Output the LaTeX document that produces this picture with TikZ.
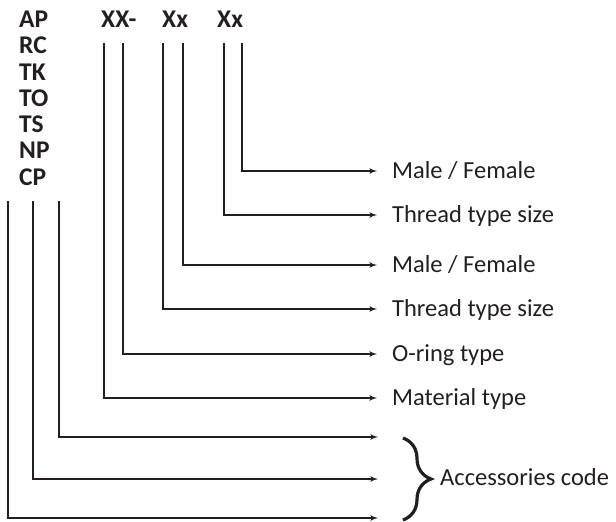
\documentclass[tikz,border=0pt]{standalone}
\usepackage{fontspec}
\setmainfont{Carlito}
\usepackage{tikz}
\usetikzlibrary{arrows,positioning,calc,decorations.pathreplacing}
\definecolor{ink}{RGB}{35,31,32}
\tikzset{
  code/.style={anchor=base west,inner sep=0pt,font=\fontsize{25.5}{24}\selectfont\bfseries,text=ink},
  lbl/.style={anchor=west,inner sep=0pt,text height=15pt,text depth=0pt,font=\fontsize{24.5}{24}\selectfont,text=ink},
  lead/.style={draw=ink,line width=1.6pt,->,shorten >=15pt},
}
\begin{document}
\begin{tikzpicture}[x=1pt,y=-1pt,>=latex',line join=miter]
\useasboundingbox (0,0) rectangle (616,522);
%% product codes
\node (ap) at (19,27.5) [code] {AP};
  \node (rc) at (19,53.5) [code] {RC};
  \node (tk) at (19,80) [code] {TK};
  \node (to) at (19,106) [code] {TO};
  \node (ts) at (19,132) [code] {TS};
  \node (np) at (19,158.5) [code] {NP};
  \node (cp) at (19,185) [code] {CP};
  \node (mat) at (101,27.5) [code] {XX-};
  \node (thA) at (162,27.5) [code] {Xx};
  \node (thB) at (217,27.5) [code] {Xx};
%% tops of the leads
\coordinate (l1) at (104,43);
  \coordinate (l2) at (123,43);
  \coordinate (l3) at (163,43);
  \coordinate (l4) at (183,43);
  \coordinate (l5) at (224,43);
  \coordinate (l6) at (242,43);
  \coordinate (k1) at (8,201);
  \coordinate (k2) at (33,201);
  \coordinate (k3) at (59,201);
%% labels
\node (mfB) at (392,171) [lbl] {Male / Female};
  \node (tsB) at (392,215) [lbl] {Thread type size};
  \node (mfA) at (392,265) [lbl] {Male / Female};
  \node (tsA) at (392,309) [lbl] {Thread type size};
  \node (oring) at (392,354) [lbl] {O-ring type};
  \node (mtype) at (392,398) [lbl] {Material type};
  \coordinate (a1) at (393,437);
  \coordinate (a2) at (393,479);
  \coordinate (a3) at (393,518);
  \node (acc) at (440,478) [lbl] {Accessories code};
%% leads
\draw [lead] (l6) |- (mfB.west);
  \draw [lead] (l5) |- (tsB.west);
  \draw [lead] (l4) |- (mfA.west);
  \draw [lead] (l3) |- (tsA.west);
  \draw [lead] (l2) |- (oring.west);
  \draw [lead] (l1) |- (mtype.west);
  \draw [lead] (k3) |- (a1);
  \draw [lead] (k2) |- (a2);
  \draw [lead] (k1) |- (a3);
%% brace
\draw [ink,line width=3.2pt,decorate,decoration={brace,amplitude=28pt}]
  (403,438) -- (403,520);
%
\end{tikzpicture}
\end{document}
